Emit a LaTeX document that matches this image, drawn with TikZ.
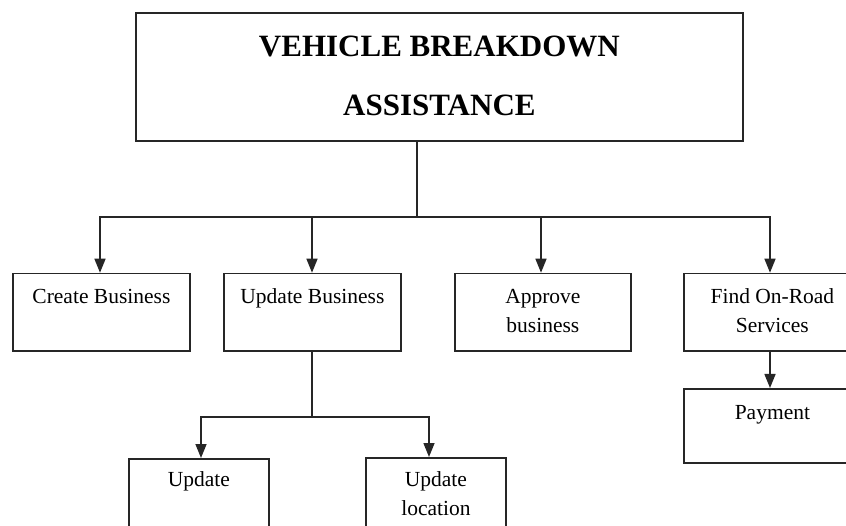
\documentclass[tikz,border=0pt]{standalone}
\usepackage{fontspec}
\setmainfont{Liberation Serif}
\usetikzlibrary{arrows.meta,calc}
\definecolor{ink}{HTML}{262626}
\tikzset{
  x=1pt, y=1pt,
  box/.style={draw=ink, line width=1.8pt, inner sep=0pt, anchor=north west},
  conn/.style={draw=ink, line width=1.5pt, line cap=rect},
  arr/.style={draw=ink, line width=1.5pt, -{Triangle[length=14pt,width=11pt]}},
  txt/.style={font=\fontsize{21.5}{29}\selectfont, text=black}
}
\newcommand{\bx}[4]{\parbox[t][#2pt][t]{#1pt}{\centering\rule{0pt}{#3pt}#4}}
\begin{document}
\begin{tikzpicture}
\useasboundingbox (0,0) rectangle (846,-526);
\clip (0,0) rectangle (846,-526);
\fill[white] (0,0) rectangle (846,-526);

\node[box, text=black, font=\bfseries\fontsize{31}{59}\selectfont] (top) at (135,-12.5)
  {\bx{607}{127.5}{43}{VEHICLE BREAKDOWN\\ASSISTANCE}};

\node[box, txt] (create) at (12,-272.7) {\bx{177}{77.5}{30}{Create Business}};
\node[box, txt] (upd) at (223,-272.7) {\bx{177}{77.5}{30}{Update Business}};
\node[box, txt] (appr) at (454,-272.7) {\bx{176}{77.5}{30}{Approve\\business}};
\node[box, txt] (find) at (683,-272.7) {\bx{177}{77.5}{30}{Find On-Road\\Services}};
\node[box, txt] (pay) at (683,-388) {\bx{177}{74}{31}{Payment}};
\node[box, txt] (upd1) at (128,-458) {\bx{140}{90}{28}{Update}};
\node[box, txt] (loc) at (365,-457) {\bx{140}{90}{29}{Update\\location}};

\coordinate (j1) at (417,-217);
\coordinate (l1) at (100,-217);
\coordinate (r1) at (770,-217);
\coordinate (m1) at (312,-217);
\coordinate (m2) at (541,-217);
\draw[conn] (j1 |- top.south) -- (j1);
\draw[conn] (l1) -- (r1);
\draw[arr] (l1) -- (l1 |- create.north);
\draw[arr] (m1) -- (m1 |- upd.north);
\draw[arr] (m2) -- (m2 |- appr.north);
\draw[arr] (r1) -- (r1 |- find.north);

\coordinate (f1) at (770,-350);
\draw[arr] (f1 |- find.south) -- (f1 |- pay.north);

\coordinate (j2) at (312,-417);
\coordinate (l2) at (201,-417);
\coordinate (r2) at (429,-417);
\draw[conn] (j2 |- upd.south) -- (j2);
\draw[conn] (l2) -- (r2);
\draw[arr] (l2) -- (l2 |- upd1.north);
\draw[arr] (r2) -- (r2 |- loc.north);
\end{tikzpicture}
\end{document}
